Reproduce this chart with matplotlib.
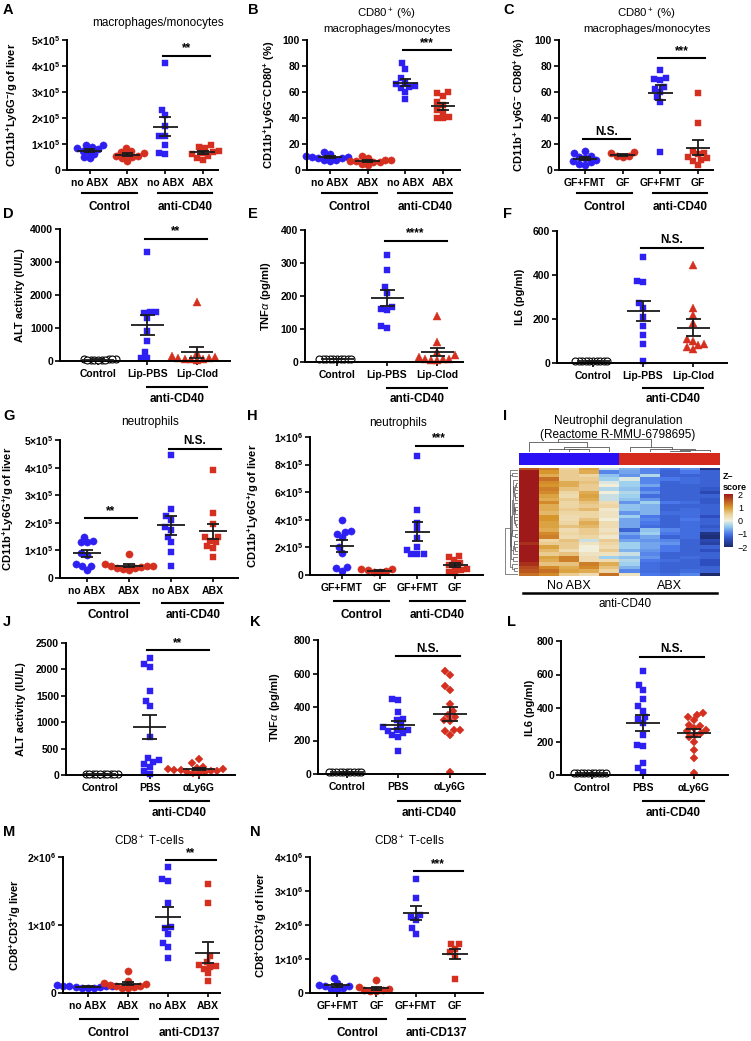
import numpy as np
import matplotlib
matplotlib.use('Agg')
import matplotlib.pyplot as plt
from matplotlib.colors import LinearSegmentedColormap, ListedColormap
from matplotlib.transforms import blended_transform_factory

plt.rcParams['font.family'] = ['Liberation Sans', 'DejaVu Sans']
plt.rcParams['mathtext.fontset'] = 'custom'
plt.rcParams['mathtext.rm'] = 'Liberation Sans'
plt.rcParams['mathtext.bf'] = 'Liberation Sans:bold'
plt.rcParams['mathtext.it'] = 'Liberation Sans:italic'
plt.rcParams['mathtext.sf'] = 'Liberation Sans'

W, H = 751, 1041
BLUE = '#2e1ff2'
RED = '#d52f1f'

# ---- data ----
# A: macrophages/monocytes, x1e5 cells/g liver
A_ctrl_noabx = [0.95, 0.95, 0.9, 0.85, 0.8, 0.75, 0.7, 0.6, 0.5, 0.45]
A_ctrl_abx = [0.85, 0.75, 0.7, 0.65, 0.6, 0.55, 0.55, 0.5, 0.45, 0.35]
A_cd40_noabx = [4.1, 2.3, 2.1, 1.7, 1.3, 1.3, 0.95, 0.65, 0.6]
A_cd40_abx = [0.95, 0.9, 0.85, 0.75, 0.7, 0.65, 0.6, 0.55, 0.45, 0.4]
# B: CD80+ %
B_ctrl_noabx = [14, 12, 11, 10, 10, 9, 9, 8, 8, 7]
B_ctrl_abx = [11, 9, 8, 8, 7, 7, 6, 6, 5, 4]
B_cd40_noabx = [82, 78, 71, 68, 66, 65, 64, 63, 60, 55]
B_cd40_abx = [60, 59, 57, 52, 50, 46, 45, 41, 40, 40]
# C: CD80+ % germ free
C_ctrl_fmt = [15, 13, 11, 10, 9, 8, 7, 6, 5, 4]
C_ctrl_gf = [14, 13, 11, 11, 10]
C_cd40_fmt = [77, 71, 70, 69, 64, 62, 60, 56, 52, 14]
C_cd40_gf = [59, 36, 15, 13, 12, 10, 9, 8, 7, 4]
# D: ALT (IU/L)
D_ctrl = [60, 55, 50, 50, 45, 45, 40, 40, 35, 30]
D_pbs = [3300, 1500, 1480, 1450, 1300, 900, 620, 270, 100, 100]
D_clod = [1780, 250, 150, 120, 100, 80, 70, 60, 50, 40]
# E: TNFa (pg/ml)
E_ctrl = [10, 10, 10, 10, 10, 10, 10, 10, 10, 10]
E_pbs = [325, 280, 228, 210, 168, 162, 157, 108, 103]
E_clod = [140, 62, 30, 20, 15, 10, 10, 8, 5, 5]
# F: IL6 (pg/ml)
F_ctrl = [10, 10, 10, 10, 10, 10, 10, 10, 10, 10]
F_pbs = [480, 375, 368, 272, 252, 210, 168, 128, 86, 10]
F_clod = [445, 250, 220, 180, 110, 100, 85, 80, 75, 65]
# G: neutrophils, x1e5
G_ctrl_noabx = [1.5, 1.35, 1.3, 1.3, 0.9, 0.85, 0.5, 0.45, 0.45, 0.3]
G_ctrl_abx = [0.87, 0.5, 0.45, 0.45, 0.42, 0.4, 0.38, 0.35, 0.32, 0.3]
G_cd40_noabx = [4.45, 2.5, 2.25, 2.1, 1.85, 1.75, 1.5, 1.3, 0.95, 0.45]
G_cd40_abx = [3.9, 2.35, 1.95, 1.5, 1.35, 1.5, 1.3, 1.15, 1.1, 0.75]
# H: neutrophils germ free, x1e5
H_ctrl_fmt = [4.0, 3.2, 3.15, 3.0, 2.75, 2.0, 1.6, 0.55, 0.5, 0.3]
H_ctrl_gf = [0.45, 0.4, 0.35, 0.3, 0.25, 0.2]
H_cd40_fmt = [8.6, 4.7, 3.8, 3.3, 2.7, 2.0, 1.8, 1.5, 1.5, 1.5]
H_cd40_gf = [1.4, 1.3, 1.1, 0.9, 0.75, 0.6, 0.4, 0.35, 0.25, 0.15]
# J: ALT, anti-Ly6G
J_ctrl = [25, 22, 20, 20, 18, 18, 15, 15, 12, 10]
J_pbs = [2220, 2100, 2050, 1600, 1400, 1300, 720, 320, 280, 250, 200, 150, 80, 20]
J_ly6g = [300, 220, 160, 140, 120, 110, 100, 90, 80, 70, 60, 50, 40, 30]
# K: TNFa, anti-Ly6G
K_ctrl = [10, 10, 10, 10, 10, 10, 10, 10, 10, 10]
K_pbs = [445, 440, 370, 330, 320, 290, 280, 265, 260, 255, 245, 230, 220, 135]
K_ly6g = [615, 590, 525, 500, 420, 375, 350, 340, 320, 315, 265, 260, 255, 230, 10]
# L: IL6, anti-Ly6G
L_ctrl = [10, 10, 10, 10, 10, 10, 10, 10, 10, 10]
L_pbs = [620, 540, 510, 455, 410, 385, 345, 335, 310, 240, 180, 175, 70, 40, 15]
L_ly6g = [370, 360, 345, 330, 300, 290, 280, 270, 260, 250, 240, 225, 200, 150, 100, 10]
# M: CD8 T cells, x1e6
M_ctrl_noabx = [0.12, 0.11, 0.11, 0.1, 0.1, 0.09, 0.09, 0.08, 0.08, 0.07]
M_ctrl_abx = [0.33, 0.17, 0.15, 0.13, 0.12, 0.11, 0.1, 0.09, 0.08, 0.07]
M_cd137_noabx = [1.86, 1.67, 1.65, 1.33, 0.97, 0.95, 0.87, 0.73, 0.68, 0.52]
M_cd137_abx = [1.61, 1.33, 0.54, 0.46, 0.41, 0.39, 0.38, 0.36, 0.29, 0.17]
# N: CD8 T cells germ free, x1e6
N_ctrl_fmt = [0.45, 0.3, 0.25, 0.2, 0.2, 0.15, 0.12, 0.1]
N_ctrl_gf = [0.38, 0.18, 0.12, 0.1, 0.08, 0.07, 0.06]
N_cd137_fmt = [3.35, 2.8, 2.28, 2.25, 2.15, 1.9, 1.75]
N_cd137_gf = [1.45, 1.43, 1.3, 1.2, 1.1, 0.42]

# I: heatmap z-scores (rows = genes, cols = mice)
HEAT_GROUPS = ['No ABX'] * 5 + ['ABX'] * 5
HEAT = [
    [1.5, 1.2, 0.4, 0.9, -0.2, -0.6, -0.9, -1.1, -0.8, -1.8],
    [2.0, 1.0, 0.5, 0.8, -0.9, -0.7, -0.9, -1.2, -1.0, -1.2],
    [2.0, 1.3, 0.5, 0.5, -0.4, -0.1, -0.9, -1.0, -1.1, -1.2],
    [2.0, 0.9, 1.2, 0.3, -0.4, -0.5, -0.8, -1.2, -1.1, -1.2],
    [2.0, 1.1, 0.4, 0.6, 0.3, -0.8, -0.4, -1.0, -1.1, -1.3],
    [2.0, 0.8, 0.3, 0.5, 0.2, -1.2, -0.5, -0.9, -1.1, -1.2],
    [2.0, 1.1, 0.4, 0.5, 0.3, -0.7, -0.4, -1.0, -1.1, -1.8],
    [2.0, 1.2, 0.3, 0.4, 0.1, -0.9, -0.7, -1.2, -1.1, -1.9],
    [2.0, 0.8, 0.4, 0.5, 0.4, -0.5, -0.6, -1.2, -1.2, -1.2],
    [2.0, 1.1, 0.8, 0.6, -0.1, -0.4, -0.9, -1.2, -1.1, -1.2],
    [2.0, 1.0, 0.8, 0.5, 0.0, -0.4, -0.7, -1.2, -1.2, -1.2],
    [2.0, 1.0, 0.3, 0.4, 0.2, -0.4, -1.0, -1.2, -1.1, -1.4],
    [2.0, 0.8, 0.5, 0.7, 0.1, -0.5, -0.6, -1.2, -1.1, -1.2],
    [2.0, 1.1, 0.4, 0.8, 0.0, -0.3, -0.8, -1.2, -1.2, -1.5],
    [2.0, 0.9, 0.3, 0.9, -0.2, -0.4, -1.1, -1.2, -1.2, -1.2],
    [2.0, 0.8, 0.5, 0.8, -0.2, -0.5, -0.8, -1.2, -1.2, -1.3],
    [2.0, 1.0, 0.3, 0.6, 0.0, -0.7, -0.9, -1.2, -1.0, -1.2],
    [2.0, 0.7, 0.4, 0.4, 0.2, -0.8, -0.6, -1.1, -1.1, -1.2],
    [2.0, 1.2, 0.6, 0.5, -0.3, -0.5, -1.0, -1.2, -1.2, -1.3],
    [2.0, 0.8, 0.5, 0.4, -0.5, -0.8, -0.3, -1.2, -1.2, -1.2],
    [2.0, 0.9, 0.4, 0.8, 0.3, -0.7, -1.0, -1.2, -1.1, -1.2],
    [1.8, 0.6, 0.6, 1.2, 0.8, -0.4, -1.1, -1.2, -1.2, -1.4],
    [1.6, 1.1, 0.8, 1.1, 0.6, -0.6, -1.1, -1.2, -1.2, -1.2],
    [2.0, 0.9, 0.6, 0.7, 0.3, -0.7, -1.1, -1.2, -1.1, -1.3],
    [1.5, 1.3, 0.9, 0.8, 0.4, -0.9, -1.1, -1.2, -1.1, -1.2],
    [1.3, 1.1, 0.5, 0.3, 1.3, 0.2, -1.0, -1.1, -0.9, -2.0],
    [2.0, 0.4, 0.6, -0.2, 0.5, -0.7, -0.8, -0.9, -1.2, -1.5],
    [2.0, 0.9, 0.5, 0.0, 0.3, -0.4, -0.7, -1.0, -1.2, -1.2],
    [2.0, 0.7, 0.3, 0.0, 0.5, -0.6, -0.8, -1.0, -1.2, -1.4],
    [1.8, 0.5, 0.5, 0.2, 0.4, -0.4, -0.7, -0.8, -1.2, -1.6],
    [2.0, 0.8, 1.2, 0.3, 0.3, -0.3, -1.0, -1.1, -1.2, -1.4],
    [2.0, 0.5, 0.6, 0.2, 0.2, -0.2, -0.9, -1.2, -1.2, -1.2],
]

AB_NAMES = ['no ABX', 'ABX', 'no ABX', 'ABX']
GF_NAMES = ['GF+FMT', 'GF', 'GF+FMT', 'GF']
LIP_NAMES = ['Control', 'Lip-PBS', 'Lip-Clod']
LY_NAMES = ['Control', 'PBS', 'αLy6G']

fig = plt.figure(figsize=(W / 100, H / 100), dpi=100)
fig.patch.set_facecolor('white')


def box(l, t, r, b):
    return [l / W, 1 - b / H, (r - l) / W, (b - t) / H]


def ftext(x, y, s, **kw):
    kw.setdefault('ha', 'center')
    kw.setdefault('va', 'center')
    fig.text(x / W, 1 - y / H, s, **kw)


def swarm_x(ax, x0, vals, d=6.2):
    tr = ax.transData
    inv = tr.inverted()
    cx = tr.transform((x0, 0))[0]
    ys = [tr.transform((x0, v))[1] for v in vals]
    placed = []
    out = np.zeros(len(vals))
    for i in np.argsort(vals):
        y = ys[i]
        bad = []
        cands = [0.0]
        for px, py in placed:
            dy = abs(py - y)
            if dy < d:
                w = np.sqrt(d * d - dy * dy)
                bad.append((px - w, px + w))
                cands += [px - w, px + w]
        cands.sort(key=lambda c: (abs(c), c))
        for c in cands:
            if all(not (lo + 1e-6 < c < hi - 1e-6) for lo, hi in bad):
                break
        placed.append((c, y))
        out[i] = inv.transform((cx + c, y))[0]
    return out


def ylab_fmt(v, unit):
    if v == 0:
        return '0'
    if unit == 1:
        return '%d' % v
    val = v * unit
    e = int(np.floor(np.log10(val) + 1e-9))
    m = val / 10 ** e
    return r'$\mathbf{%d{\times}10^{%d}}$' % (round(m), e)


MK = {'o': ('o', 5.2), 'oo': ('o', 5.0), 's': ('s', 5.0), '^': ('^', 5.6), 'D': ('D', 4.4)}


def dot_panel(pos, xlim, ylim, yticks, unit, groups, names, sigs, brackets, rows, ylabel, ylab_x):
    ax = fig.add_axes(box(*pos))
    ax.set_xlim(xlim)
    ax.set_ylim(ylim)
    for s in ['top', 'right']:
        ax.spines[s].set_visible(False)
    for s in ['left', 'bottom']:
        ax.spines[s].set_linewidth(1.4)
    ax.tick_params(axis='y', length=3.5, width=1.2, pad=1.5)
    ax.tick_params(axis='x', length=3, width=1.2, pad=2.5)
    for k, (vals, mk, color) in enumerate(groups):
        x0 = k + 1
        vals = np.asarray(vals, float)
        m, ms = MK[mk]
        if mk == 'oo':
            xs = swarm_x(ax, x0, vals, d=3.6)
            ax.plot(xs, vals, ls='none', marker=m, ms=ms, mfc='white', mec='black',
                    mew=0.8, clip_on=False, zorder=2)
        else:
            xs = swarm_x(ax, x0, vals)
            ax.plot(xs, vals, ls='none', marker=m, ms=ms, mfc=color, mec=color,
                    mew=0.3, clip_on=False, zorder=2)
        mean = vals.mean()
        sem = vals.std(ddof=1) / np.sqrt(len(vals))
        ax.hlines(mean, x0 - 0.33, x0 + 0.33, color='#1a1a1a', lw=1.3, zorder=3)
        ax.vlines(x0, mean - sem, mean + sem, color='#1a1a1a', lw=1.3, zorder=3)
        ax.hlines([mean - sem, mean + sem], x0 - 0.15, x0 + 0.15, color='#1a1a1a', lw=1.3, zorder=3)
    ax.set_xticks(range(1, len(groups) + 1))
    ax.set_xticklabels(names, fontsize=7.5, fontweight='bold')
    ax.set_yticks(yticks)
    ax.set_yticklabels([ylab_fmt(v, unit) for v in yticks], fontsize=7.5, fontweight='bold')
    for i, j, y, txt in sigs:
        ax.plot([i - 0.05, j + 0.2], [y, y], color='black', lw=1.5, clip_on=False)
        ax.annotate(txt, ((i + j) / 2 + 0.07, y), xytext=(0, 1), textcoords='offset points',
                    ha='center', va='bottom', fontsize=8.5, fontweight='bold')
    tr = blended_transform_factory(ax.transData, fig.transFigure)
    line_y, text_y, pl, pr = rows
    for i, j, txt in brackets:
        ax.plot([i - pl, j + pr], [1 - line_y / H] * 2, color='black', lw=1.5,
                transform=tr, clip_on=False)
        ax.text((i + j) / 2 + (pr - pl) / 2, 1 - text_y / H, txt, transform=tr,
                ha='center', va='center', fontsize=8.5, fontweight='bold')
    ftext(ylab_x, (pos[1] + pos[3]) / 2, ylabel, rotation=90, fontsize=8, fontweight='bold')
    return ax


CTRL_40 = [(1, 2, 'Control'), (3, 4, 'anti-CD40')]
ONLY_40 = [(2, 3, 'anti-CD40')]
CTRL_137 = [(1, 2, 'Control'), (3, 4, 'anti-CD137')]

# row 1
dot_panel((67, 40, 218, 170), (0.4, 4.4), (0, 5), [0, 1, 2, 3, 4, 5], 1e5,
          [(A_ctrl_noabx, 'o', BLUE), (A_ctrl_abx, 'o', RED), (A_cd40_noabx, 's', BLUE), (A_cd40_abx, 's', RED)],
          AB_NAMES, [(3, 4, 4.4, '**')], CTRL_40, (193, 207, 0.2, 0.25),
          r'CD11b$^\mathbf{+}$Ly6G$^\mathbf{-}$/g of liver', 12)
dot_panel((307, 40, 460, 170), (0.39, 4.45), (0, 100), [0, 20, 40, 60, 80, 100], 1,
          [(B_ctrl_noabx, 'o', BLUE), (B_ctrl_abx, 'o', RED), (B_cd40_noabx, 's', BLUE), (B_cd40_abx, 's', RED)],
          AB_NAMES, [(3, 4, 92, '***')], CTRL_40, (193, 207, 0.2, 0.25),
          r'CD11b$^\mathbf{+}$Ly6G$^\mathbf{-}$CD80$^\mathbf{+}$ (%)', 269)
dot_panel((559, 40, 713, 170), (0.31, 4.4), (0, 100), [0, 20, 40, 60, 80, 100], 1,
          [(C_ctrl_fmt, 'o', BLUE), (C_ctrl_gf, 'o', RED), (C_cd40_fmt, 's', BLUE), (C_cd40_gf, 's', RED)],
          GF_NAMES, [(1, 2, 23.5, 'N.S.'), (3, 4, 86, '***')], CTRL_40, (193, 207, 0.2, 0.25),
          r'CD11b$^\mathbf{+}$ Ly6G$^\mathbf{-}$ CD80$^\mathbf{+}$ (%)', 519)

# row 2
dot_panel((60, 229, 230, 361), (0.23, 3.67), (0, 4000), [0, 1000, 2000, 3000, 4000], 1,
          [(D_ctrl, 'oo', 'k'), (D_pbs, 's', BLUE), (D_clod, '^', RED)],
          LIP_NAMES, [(2, 3, 3700, '**')], ONLY_40, (387, 399, 0.0, 0.2),
          'ALT activity (IU/L)', 20)
dot_panel((305, 230, 463, 362), (0.36, 3.52), (0, 400), [0, 100, 200, 300, 400], 1,
          [(E_ctrl, 'oo', 'k'), (E_pbs, 's', BLUE), (E_clod, '^', RED)],
          LIP_NAMES, [(2, 3, 367, '****')], ONLY_40, (388, 399, 0.0, 0.2),
          r'TNF$\alpha$ (pg/ml)', 266)
dot_panel((557, 231, 727, 363), (0.28, 3.68), (0, 600), [0, 200, 400, 600], 1,
          [(F_ctrl, 'oo', 'k'), (F_pbs, 's', BLUE), (F_clod, '^', RED)],
          LIP_NAMES, [(2, 3, 524, 'N.S.')], ONLY_40, (388, 399, 0.0, 0.2),
          'IL6 (pg/ml)', 520)

# row 3
dot_panel((60, 440, 238, 578), (0.36, 4.6), (0, 5), [0, 1, 2, 3, 4, 5], 1e5,
          [(G_ctrl_noabx, 'o', BLUE), (G_ctrl_abx, 'o', RED), (G_cd40_noabx, 's', BLUE), (G_cd40_abx, 's', RED)],
          AB_NAMES, [(1, 2, 2.17, '**'), (3, 4, 4.69, 'N.S.')], CTRL_40, (603, 615, 0.2, 0.25),
          r'CD11b$^\mathbf{+}$Ly6G$^\mathbf{+}$/g of liver', 8)
dot_panel((310, 437, 483, 575), (0.15, 4.74), (0, 10), [0, 2, 4, 6, 8, 10], 1e5,
          [(H_ctrl_fmt, 'o', BLUE), (H_ctrl_gf, 'o', RED), (H_cd40_fmt, 's', BLUE), (H_cd40_gf, 's', RED)],
          GF_NAMES, [(3, 4, 9.35, '***')], CTRL_40, (601, 615, 0.2, 0.25),
          r'CD11b$^\mathbf{+}$Ly6G$^\mathbf{+}$/g of liver', 253)

# row 4
dot_panel((66, 643, 235, 775), (0.31, 3.73), (0, 2500), [0, 500, 1000, 1500, 2000, 2500], 1,
          [(J_ctrl, 'oo', 'k'), (J_pbs, 's', BLUE), (J_ly6g, 'D', RED)],
          LY_NAMES, [(2, 3, 2360, '**')], ONLY_40, (801, 813, 0.0, 0.2),
          'ALT activity (IU/L)', 21)
dot_panel((318, 640, 485, 774), (0.44, 3.68), (0, 800), [0, 200, 400, 600, 800], 1,
          [(K_ctrl, 'oo', 'k'), (K_pbs, 's', BLUE), (K_ly6g, 'D', RED)],
          LY_NAMES, [(2, 3, 704, 'N.S.')], ONLY_40, (801, 813, 0.0, 0.2),
          r'TNF$\alpha$ (pg/ml)', 275)
dot_panel((561, 641, 728, 775), (0.4, 3.67), (0, 800), [0, 200, 400, 600, 800], 1,
          [(L_ctrl, 'oo', 'k'), (L_pbs, 's', BLUE), (L_ly6g, 'D', RED)],
          LY_NAMES, [(2, 3, 706, 'N.S.')], ONLY_40, (801, 813, 0.0, 0.2),
          'IL6 (pg/ml)', 530)

# row 5
dot_panel((63, 857, 220, 993), (0.38, 4.3), (0, 2), [0, 1, 2], 1e6,
          [(M_ctrl_noabx, 'o', BLUE), (M_ctrl_abx, 'o', RED), (M_cd137_noabx, 's', BLUE), (M_cd137_abx, 's', RED)],
          AB_NAMES, [(3, 4, 1.95, '**')], CTRL_137, (1019, 1033, 0.2, 0.25),
          r'CD8$^\mathbf{+}$CD3$^\mathbf{+}$/g liver', 15)
dot_panel((310, 857, 483, 993), (0.31, 4.71), (0, 4), [0, 1, 2, 3, 4], 1e6,
          [(N_ctrl_fmt, 'o', BLUE), (N_ctrl_gf, 'o', RED), (N_cd137_fmt, 's', BLUE), (N_cd137_gf, 's', RED)],
          GF_NAMES, [(3, 4, 3.58, '***')], CTRL_137, (1019, 1033, 0.2, 0.25),
          r'CD8$^\mathbf{+}$CD3$^\mathbf{+}$/g of liver', 261)


# ---- heatmap (I) ----
def avg_link(X):
    X = np.asarray(X, float)
    n = len(X)
    D = np.sqrt(((X[:, None] - X[None]) ** 2).sum(-1))
    members = {i: [i] for i in range(n)}
    height = {i: 0.0 for i in range(n)}
    children = {}
    active = list(range(n))
    nid = n
    while len(active) > 1:
        best = None
        for a in range(len(active)):
            for b in range(a + 1, len(active)):
                p, q = active[a], active[b]
                d = D[np.ix_(members[p], members[q])].mean()
                if best is None or d < best[0]:
                    best = (d, p, q)
        d, p, q = best
        if min(members[q]) < min(members[p]):
            p, q = q, p
        members[nid] = members[p] + members[q]
        height[nid] = d
        children[nid] = (p, q)
        active = [c for c in active if c not in (p, q)] + [nid]
        nid += 1
    root = active[0]
    order = members[root]
    pos = {leaf: i for i, leaf in enumerate(order)}
    segs = []

    def place(node):
        if node not in children:
            return pos[node]
        p, q = children[node]
        xp, xq = place(p), place(q)
        h = height[node]
        segs.append(([xp, xp, xq, xq], [height[p], h, h, height[q]]))
        return (xp + xq) / 2

    place(root)
    return order, segs, height[root]


Z = np.array(HEAT)
row_order, row_segs, row_top = avg_link(Z)
col_order, col_segs, col_top = avg_link(Z.T)
Zs = Z[row_order][:, col_order]

zcmap = LinearSegmentedColormap.from_list('z', [
    (0.0, '#1c2a6b'), (0.15, '#2f4fc0'), (0.25, '#4a78ea'), (0.4, '#9fd0ee'),
    (0.5, '#f2efdc'), (0.62, '#ecd099'), (0.75, '#d8982d'), (0.88, '#bb5520'),
    (1.0, '#9e1a1a')])

axh = fig.add_axes(box(519, 468, 720, 576))
im = axh.imshow(Zs, aspect='auto', cmap=zcmap, vmin=-2, vmax=2, interpolation='nearest')
axh.set_xticks([])
axh.set_yticks([])
for s in axh.spines.values():
    s.set_visible(False)

axa = fig.add_axes(box(519, 453, 720, 465))
grp = [HEAT_GROUPS[c] for c in col_order]
axa.imshow([[0 if g == 'No ABX' else 1 for g in grp]], aspect='auto',
           cmap=ListedColormap(['#2a10f5', '#d52a1e']), vmin=0, vmax=1)
axa.axis('off')

axc = fig.add_axes(box(519, 439, 720, 452))
for xs, ys in col_segs:
    axc.plot(xs, ys, color='#555555', lw=0.6)
axc.set_xlim(-0.5, Zs.shape[1] - 0.5)
axc.set_ylim(0, col_top * 1.02)
axc.axis('off')

axr = fig.add_axes(box(505, 468, 518, 576))
for ys, xs in row_segs:
    axr.plot(xs, ys, color='#555555', lw=0.5)
axr.set_ylim(Zs.shape[0] - 0.5, -0.5)
axr.set_xlim(row_top * 1.02, 0)
axr.axis('off')

cax = fig.add_axes(box(724, 494, 733, 547))
cb = fig.colorbar(im, cax=cax, ticks=[-2, -1, 0, 1, 2])
cb.outline.set_visible(False)
cb.ax.tick_params(labelsize=6.5, length=2.5, color='white', width=0.8, pad=1)
cb.ax.set_yticklabels(['\u22122', '\u22121', '0', '1', '2'])
ftext(723, 482, 'Z\u2013\nscore', ha='left', fontsize=6.5, fontweight='bold', linespacing=1.3)

htr = blended_transform_factory(axh.transData, axh.transAxes)
for g in ['No ABX', 'ABX']:
    idx = [i for i, gg in enumerate(grp) if gg == g]
    axh.text(np.mean(idx), -0.04, g, transform=htr, ha='center', va='top', fontsize=9)
fig.add_artist(plt.Line2D([523 / W, 717 / W], [1 - 593 / H] * 2, color='black', lw=1.8))
ftext(625, 604, 'anti-CD40', fontsize=8.5)

# ---- titles and panel letters ----
ftext(158, 23, 'macrophages/monocytes', fontsize=8.5)
for xc in (387, 647):
    ftext(xc, 14, r'CD80$^+$ (%)', fontsize=8.2)
    ftext(xc, 29, 'macrophages/monocytes', fontsize=8.2)
ftext(150, 422, 'neutrophils', fontsize=8.5)
ftext(398, 423, 'neutrophils', fontsize=8.5)
ftext(618, 421, 'Neutrophil degranulation', fontsize=8.5)
ftext(618, 435, '(Reactome R-MMU-6798695)', fontsize=8.5)
ftext(150, 841, r'CD8$^+$ T-cells', fontsize=8.5)
ftext(410, 841, r'CD8$^+$ T-cells', fontsize=8.5)

for letter, x, y in [('A', 3, 10), ('B', 248, 10), ('C', 503, 10),
                     ('D', 3, 214), ('E', 248, 214), ('F', 503, 214),
                     ('G', 3, 416), ('H', 247, 416), ('I', 503, 416),
                     ('J', 3, 622), ('K', 250, 622), ('L', 507, 622),
                     ('M', 3, 832), ('N', 250, 832)]:
    ftext(x, y, letter, ha='left', fontsize=10.5, fontweight='bold')

fig.savefig('out.png', dpi=100, facecolor='white')
